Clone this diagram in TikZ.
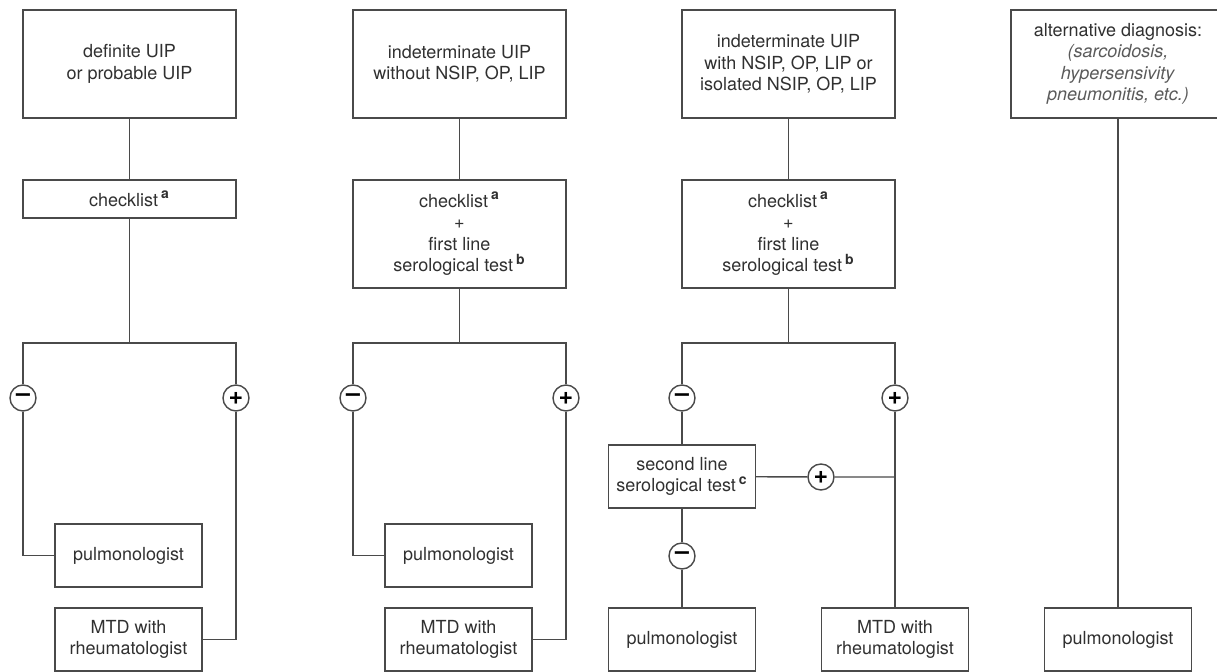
\documentclass[tikz,border=0pt]{standalone}
\usepackage{fontspec}
\setmainfont{TeX Gyre Heros}
\usepackage{tikz}
\definecolor{linegray}{HTML}{4A4A4A}
\definecolor{textgray}{HTML}{303030}
\definecolor{notegray}{HTML}{5A5A5A}
\newcommand{\supnote}[1]{\,\textsuperscript{\bfseries\scriptsize #1}}
\newcommand{\notetext}[1]{\textcolor{notegray}{\textit{#1}}}

\begin{document}
\begin{tikzpicture}[x=0.5pt, y=-0.5pt,
    bnode/.style={draw=linegray, line width=0.7pt, minimum width=106.5pt, minimum height=54pt, inner sep=2pt, align=center, text=textgray, font=\fontsize{9}{10.75}\selectfont},
    snode/.style={bnode, minimum width=73.5pt, minimum height=31.5pt},
    onode/.style={draw=linegray, line width=0.7pt, fill=white, circle, minimum size=13pt, inner sep=0pt, text=black, font=\fontsize{12.5}{12.5}\selectfont\bfseries}]
    \useasboundingbox (0,0) rectangle (1217,672);
    \clip (0,0) rectangle (1217,672);

    % definite / probable UIP
    \node[bnode] (d1) at (129.5,64) {definite UIP\\or probable UIP};
    \node[bnode, minimum height=19pt] (c1) at (129.5,199) {checklist\supnote{a}};
    \coordinate (s1) at (129.5,343);
    \node[onode] (m1) at (23,398) {\textendash};
    \node[onode] (p1) at (236,398) {+};
    \node[snode] (r1) at (128.5,555.5) {pulmonologist};
    \node[snode] (x1) at (128.5,639.5) {MTD with\\rheumatologist};

    % indeterminate UIP without NSIP
    \node[bnode] (d2) at (459.5,64) {indeterminate UIP\\without NSIP, OP, LIP};
    \node[bnode] (c2) at (459.5,234) {checklist\supnote{a}\\+\\first line\\serological test\supnote{b}};
    \coordinate (s2) at (459.5,343);
    \node[onode] (m2) at (353,398) {\textendash};
    \node[onode] (p2) at (566,398) {+};
    \node[snode] (r2) at (458.5,555.5) {pulmonologist};
    \node[snode] (x2) at (458.5,639.5) {MTD with\\rheumatologist};

    % indeterminate UIP with NSIP
    \node[bnode] (d3) at (788.5,64) {indeterminate UIP\\with NSIP, OP, LIP or\\isolated NSIP, OP, LIP};
    \node[bnode] (c3) at (788.5,234) {checklist\supnote{a}\\+\\first line\\serological test\supnote{b}};
    \coordinate (s3) at (788.5,343);
    \node[onode] (m3) at (682,398) {\textendash};
    \node[onode] (p3) at (895,398) {+};
    \node[snode] (t3) at (682,476.5) {second line\\serological test\supnote{c}};
    \node[onode] (tp3) at (821,477) {+};
    \coordinate (j3) at (895,477);
    \node[onode] (tm3) at (682,556) {\textendash};
    \node[snode] (r3) at (682,639.5) {pulmonologist};
    \node[snode] (x3) at (895,639.5) {MTD with\\rheumatologist};

    % alternative diagnosis
    \node[bnode, minimum width=107pt] (d4) at (1118,64) {alternative diagnosis:\\\notetext{(sarcoidosis,}\\\notetext{hypersensivity}\\\notetext{pneumonitis, etc.)}};
    \node[snode] (r4) at (1118,639.5) {pulmonologist};

   \begin{scope}[draw=linegray, line width=0.7pt]
    \draw (d1) -- (c1) -- (s1);
    \draw (m1) |- (s1) -| (p1);
    \draw (m1) |- (r1);
    \draw (p1) |- (x1);

    \draw (d2) -- (c2) -- (s2);
    \draw (m2) |- (s2) -| (p2);
    \draw (m2) |- (r2);
    \draw (p2) |- (x2);

    \draw (d3) -- (c3) -- (s3);
    \draw (m3) |- (s3) -| (p3);
    \draw (m3) -- (t3);
    \draw (t3) -- (tp3) -- (j3);
    \draw (t3) -- (tm3) -- (r3);
    \draw (p3) -- (x3);

    \draw (d4) -- (r4);
   \end{scope}
\end{tikzpicture}
\end{document}
